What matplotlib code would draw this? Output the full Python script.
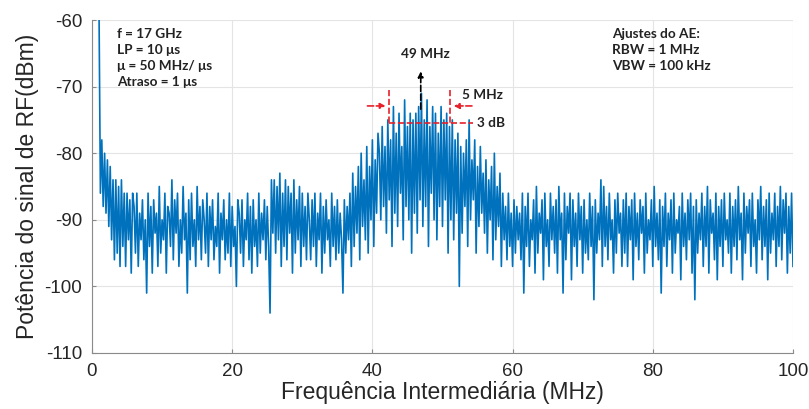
import numpy as np
import matplotlib
matplotlib.use("Agg")
import matplotlib.pyplot as plt

# Espectro medido (dBm), amostras de 1.0 a 100.0 MHz
power = [
    -58, -86, -78, -88, -80, -89, -81, -91, -82, -93, -84, -96, -84, -95, -85, -97, -84, -94, -86, -97, -86, -93, -87, -98, -86,
    -88, -95, -86, -97, -89, -93, -87, -96, -90, -101, -86, -94, -88, -98, -87, -92, -89, -97, -85, -95, -90, -93, -86, -98, -88,
    -89, -94, -84, -96, -87, -92, -86, -97, -90, -95, -85, -93, -89, -101, -87, -96, -86, -94, -90, -97, -85, -93, -88, -96, -87,
    -90, -95, -86, -97, -88, -93, -87, -96, -91, -94, -86, -98, -89, -93, -87, -96, -90, -95, -86, -97, -88, -94, -91, -100, -87,
    -89, -95, -87, -97, -90, -93, -86, -96, -88, -98, -87, -94, -90, -97, -86, -95, -89, -93, -87, -96, -88, -94, -104, -84, -92,
    -84, -95, -85, -93, -83, -97, -86, -94, -84, -96, -85, -92, -86, -98, -84, -95, -87, -93, -85, -97, -86, -94, -88, -96, -86,
    -90, -96, -87, -94, -86, -97, -89, -93, -86, -98, -88, -95, -87, -93, -90, -97, -86, -94, -88, -96, -87, -95, -89, -93, -101,
    -87, -95, -88, -93, -86, -97, -83, -94, -85, -92, -82, -96, -80, -91, -84, -93, -79, -95, -82, -90, -78, -94, -81, -89, -77,
    -80, -90, -76, -88, -79, -92, -75, -87, -78, -94, -73, -89, -77, -91, -74, -86, -79, -93, -72, -88, -76, -90, -74, -95, -75,
    -89, -74, -92, -73, -87, -71, -91, -75, -88, -72, -94, -76, -86, -73, -90, -74, -93, -77, -88, -73, -91, -75, -87, -74, -95,
    -76, -90, -75, -93, -78, -89, -77, -100, -79, -92, -80, -88, -78, -94, -75, -90, -81, -87, -78, -95, -82, -91, -79, -89, -83,
    -92, -81, -95, -84, -90, -82, -96, -80, -93, -85, -91, -83, -97, -86, -93, -88, -96, -86, -94, -89, -97, -87, -95, -88, -93,
    -89, -96, -86, -101, -88, -94, -86, -97, -90, -93, -87, -98, -85, -95, -89, -92, -87, -99, -86, -94, -90, -97, -86, -93, -88,
    -95, -87, -98, -85, -93, -89, -101, -86, -96, -88, -92, -86, -99, -87, -94, -89, -97, -86, -93, -88, -98, -87, -95, -90, -96,
    -86, -94, -88, -102, -87, -95, -89, -93, -84, -97, -85, -94, -88, -96, -86, -93, -90, -98, -87, -95, -86, -92, -89, -97, -87,
    -95, -86, -97, -88, -93, -87, -99, -86, -94, -89, -96, -87, -92, -88, -98, -86, -95, -90, -93, -87, -97, -85, -94, -89, -96,
    -87, -101, -88, -94, -86, -97, -89, -93, -87, -98, -86, -95, -90, -92, -88, -99, -86, -94, -89, -96, -87, -93, -86, -98, -88,
    -102, -87, -95, -89, -93, -86, -97, -88, -94, -85, -98, -87, -92, -89, -96, -86, -99, -88, -94, -87, -97, -86, -93, -90, -95,
    -86, -98, -88, -94, -87, -96, -85, -93, -89, -99, -86, -95, -88, -92, -87, -97, -86, -94, -90, -98, -87, -93, -85, -96, -88,
    -94, -87, -99, -86, -95, -89, -93, -86, -97, -88, -94, -85, -96, -87, -92, -86, -98, -88, -95, -86, -97,
]
freq = np.linspace(1.0, 100.0, len(power))

xticks = [0, 20, 40, 60, 80, 100]
yticks = [-110, -100, -90, -80, -70, -60]

info_left = "f = 17 GHz\nLP = 10 \u03bcs\n\u03bc = 50 MHz/ \u03bcs\nAtraso = 1 \u03bcs"
info_right = "Ajustes do AE:\nRBW = 1 MHz\nVBW = 100 kHz"

plt.rcParams['font.family'] = ['Liberation Sans', 'DejaVu Sans']
plt.rcParams['axes.unicode_minus'] = False

fig = plt.figure(figsize=(8.09, 4.09), dpi=100)
ax = fig.add_axes([0.1137, 0.137, 0.8665, 0.814])

ax.plot(freq, power, color='#0072BD', linewidth=1.2)

ax.set_xlim(0, 100)
ax.set_ylim(-110, -60)
ax.set_xticks(xticks)
ax.set_yticks(yticks)
ax.grid(True, color='#e4e4e4', linewidth=0.8)
ax.set_axisbelow(True)
for s in ['top', 'right']:
    ax.spines[s].set_visible(False)
for s in ['left', 'bottom']:
    ax.spines[s].set_color('#8a8a8a')
ax.tick_params(direction='in', length=3, color='#8a8a8a', labelsize=13.5,
               labelcolor='#262626', pad=7)

ax.set_xlabel('Frequência Intermediária (MHz)', fontsize=16.5, color='#262626', labelpad=1)
ax.set_ylabel('Potência do sinal de RF(dBm)', fontsize=16.5, color='#262626', labelpad=4)

bold = dict(family=['Lato', 'DejaVu Sans'], fontweight='bold', fontsize=9.8, color='#222222')
ax.text(0.036, 0.975, info_left, transform=ax.transAxes, va='top', ha='left',
        linespacing=1.4, **bold)
ax.text(0.742, 0.975, info_right, transform=ax.transAxes, va='top', ha='left',
        linespacing=1.4, **bold)

# marcação do pico
ax.text(47.5, -65.1, '49 MHz', ha='center', va='center', **bold)
ax.annotate('', xy=(46.9, -67.3), xytext=(46.9, -73.8),
            arrowprops=dict(arrowstyle='-|>', color='black', linestyle='--',
                            lw=1.2, mutation_scale=8))

red = dict(color='#e8202a', linestyle='--', linewidth=1.2)
ax.plot([42.4, 42.4], [-70.5, -75.5], **red)
ax.plot([51.1, 51.1], [-70.5, -75.5], **red)
ax.plot([42.4, 54.4], [-75.5, -75.5], **red)
ax.annotate('', xy=(42.3, -72.9), xytext=(38.9, -72.9),
            arrowprops=dict(arrowstyle='-|>', color='#e8202a', linestyle='--',
                            lw=1.2, mutation_scale=8))
ax.annotate('', xy=(51.2, -72.9), xytext=(54.6, -72.9),
            arrowprops=dict(arrowstyle='-|>', color='#e8202a', linestyle='--',
                            lw=1.2, mutation_scale=8))
ax.text(52.8, -71.3, '5 MHz', ha='left', va='center', **bold)
ax.text(54.9, -75.5, '3 dB', ha='left', va='center', **bold)

fig.savefig('out.png', dpi=100)
